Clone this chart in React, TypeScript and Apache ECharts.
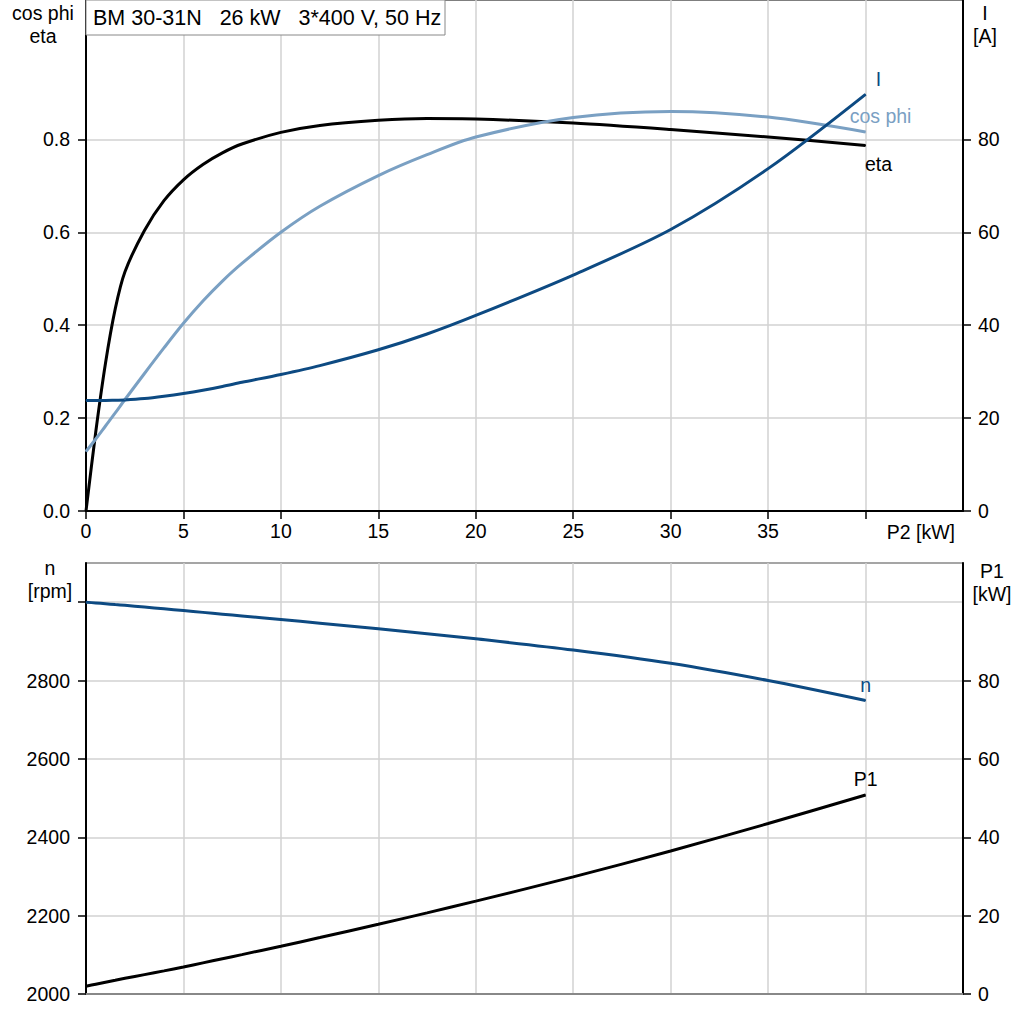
import React, { useEffect, useRef } from "react";
import * as echarts from "echarts";

const P2 = [0, 0.5, 1, 1.5, 2, 3, 4, 5, 6, 7, 8, 10, 12, 15, 17.5, 20, 25, 30, 35, 40];
const ETA = [0, 0.17, 0.318, 0.435, 0.515, 0.604, 0.668, 0.713, 0.746, 0.771, 0.79, 0.815, 0.83, 0.841, 0.845, 0.844, 0.835, 0.821, 0.805, 0.787];
const COS_PHI = [0.128, 0.155, 0.183, 0.211, 0.24, 0.296, 0.351, 0.404, 0.452, 0.495, 0.533, 0.6, 0.656, 0.722, 0.767, 0.805, 0.847, 0.86, 0.848, 0.816];
const CURRENT = [23.8, 23.8, 23.8, 23.85, 23.9, 24.2, 24.7, 25.3, 26.0, 26.8, 27.7, 29.4, 31.3, 34.7, 38.1, 42.1, 50.8, 60.6, 73.7, 89.7];
const SPEED = [3000, 2998, 2996, 2994, 2992, 2987.5, 2983, 2978.5, 2974, 2969.5, 2965, 2956, 2946.5, 2932, 2919.5, 2906.5, 2878, 2844, 2800, 2749];
const P1 = [2.0, 2.5, 3.0, 3.5, 4.0, 4.95, 5.9, 6.9, 7.95, 9.0, 10.05, 12.2, 14.4, 17.8, 20.7, 23.7, 29.9, 36.5, 43.5, 50.8];

const X_TICKS = [0, 5, 10, 15, 20, 25, 30, 35, 40];
const X_LABELS = [0, 5, 10, 15, 20, 25, 30, 35];
const LEFT_TOP_TICKS = [0, 0.2, 0.4, 0.6, 0.8];
const RIGHT_TOP_TICKS = [0, 20, 40, 60, 80];
const LEFT_BOTTOM_TICKS = [2000, 2200, 2400, 2600, 2800, 3000];
const LEFT_BOTTOM_LABELS = [2000, 2200, 2400, 2600, 2800];
const RIGHT_BOTTOM_TICKS = [0, 20, 40, 60, 80];

const TITLE = "BM 30-31N   26 kW   3*400 V, 50 Hz";

const FONT = "'Liberation Sans', Arial, sans-serif";
const FS = 19.5;
const DARK_BLUE = "#0d4a82";
const LIGHT_BLUE = "#7aa0c3";
const GRID_GRAY = "#d2d2d2";

function build(ys: number[], name: string, color: string, labelOpts: any) {
  return P2.map((x, i) =>
    i === P2.length - 1
      ? {
          value: [x, ys[i]],
          label: {
            show: true,
            formatter: name,
            color,
            fontSize: FS,
            fontFamily: FONT,
            ...labelOpts,
          },
        }
      : [x, ys[i]]
  );
}

function lineSeries(name: string, ys: number[], color: string, xi: number, yi: number, labelOpts: any) {
  return {
    type: "line",
    name,
    xAxisIndex: xi,
    yAxisIndex: yi,
    smooth: 0.3,
    symbol: "circle",
    symbolSize: 1,
    showSymbol: true,
    showAllSymbol: true,
    itemStyle: { color },
    lineStyle: { color, width: 3 },
    data: build(ys, name, color, labelOpts),
  };
}

export default function App() {
  const ref = useRef<HTMLDivElement>(null);
  useEffect(() => {
    if (!ref.current) return;
    const chart = echarts.init(ref.current, null, { renderer: "svg" });
    const splitLine = { show: true, lineStyle: { color: GRID_GRAY, width: 1.5 } };
    const blackLine = { show: true, lineStyle: { color: "#000", width: 2 } };
    const tick = (vals: number[]) => ({
      show: true,
      length: 8,
      customValues: vals,
      lineStyle: { color: "#000", width: 1.5 },
    });
    const lbl = (vals: number[], margin: number, fmt?: (v: number) => string) => ({
      show: true,
      customValues: vals,
      margin,
      fontSize: FS,
      fontFamily: FONT,
      color: "#000",
      formatter: fmt,
    });
    const option: any = {
      animation: false,
      textStyle: { fontFamily: FONT },
      grid: [
        { left: 86, right: 61, top: 0, height: 511, show: true, borderColor: "#000", borderWidth: 1 },
        { left: 86, right: 61, top: 563, height: 431, show: true, borderColor: "#888", borderWidth: 1.5 },
      ],
      xAxis: [
        {
          type: "value",
          gridIndex: 0,
          min: 0,
          max: 45,
          interval: 5,
          axisLine: blackLine,
          axisTick: tick(X_TICKS),
          axisLabel: lbl(X_LABELS, 10, (v: number) => String(v)),
          splitLine,
        },
        {
          type: "value",
          gridIndex: 1,
          min: 0,
          max: 45,
          interval: 5,
          axisLine: { show: true, lineStyle: { color: "#888", width: 2 } },
          axisTick: { show: false },
          axisLabel: { show: false },
          splitLine,
        },
      ],
      yAxis: [
        {
          type: "value",
          gridIndex: 0,
          position: "left",
          min: 0,
          max: 1.1,
          interval: 0.1,
          axisLine: blackLine,
          axisTick: tick(LEFT_TOP_TICKS),
          axisLabel: lbl(LEFT_TOP_TICKS, 16, (v: number) => v.toFixed(1)),
          splitLine,
        },
        {
          type: "value",
          gridIndex: 0,
          position: "right",
          min: 0,
          max: 110,
          interval: 10,
          axisLine: blackLine,
          axisTick: tick(RIGHT_TOP_TICKS),
          axisLabel: lbl(RIGHT_TOP_TICKS, 15, (v: number) => String(v)),
          splitLine: { show: false },
        },
        {
          type: "value",
          gridIndex: 1,
          position: "left",
          min: 2000,
          max: 3100,
          interval: 100,
          axisLine: blackLine,
          axisTick: tick(LEFT_BOTTOM_TICKS),
          axisLabel: lbl(LEFT_BOTTOM_LABELS, 16, (v: number) => String(v)),
          splitLine,
        },
        {
          type: "value",
          gridIndex: 1,
          position: "right",
          min: 0,
          max: 110,
          interval: 10,
          axisLine: blackLine,
          axisTick: tick(RIGHT_BOTTOM_TICKS),
          axisLabel: lbl(RIGHT_BOTTOM_TICKS, 15, (v: number) => String(v)),
          splitLine: { show: false },
        },
      ],
      series: [
        lineSeries("eta", ETA, "#000", 0, 0, { position: "bottom", offset: [13, 3] }),
        lineSeries("cos phi", COS_PHI, LIGHT_BLUE, 0, 0, { position: "top", offset: [15, 0] }),
        lineSeries("I", CURRENT, DARK_BLUE, 0, 1, { position: "top", offset: [13, 0] }),
        lineSeries("n", SPEED, DARK_BLUE, 1, 2, { position: "top", offset: [0, 0] }),
        lineSeries("P1", P1, "#000", 1, 3, { position: "top", offset: [0, 0] }),
      ],
      graphic: [
        {
          type: "rect",
          z: 100,
          shape: { x: 86, y: 0, width: 359, height: 35 },
          style: { fill: "#fff", stroke: "#888", lineWidth: 1 },
        },
        {
          type: "text",
          z: 101,
          x: 93,
          y: 18,
          style: { text: TITLE, fontSize: 21.5, fontFamily: FONT, fill: "#000", verticalAlign: "middle", align: "left" },
        },
        {
          type: "text",
          z: 101,
          x: 43,
          y: 1,
          style: { text: "cos phi\neta", fontSize: FS, lineHeight: 23, fontFamily: FONT, fill: "#000", align: "center", verticalAlign: "top" },
        },
        {
          type: "text",
          z: 101,
          x: 985,
          y: 1,
          style: { text: "I\n[A]", fontSize: FS, lineHeight: 23, fontFamily: FONT, fill: "#000", align: "center", verticalAlign: "top" },
        },
        {
          type: "text",
          z: 101,
          x: 50,
          y: 556,
          style: { text: "n\n[rpm]", fontSize: FS, lineHeight: 23, fontFamily: FONT, fill: "#000", align: "center", verticalAlign: "top" },
        },
        {
          type: "text",
          z: 101,
          x: 992,
          y: 559,
          style: { text: "P1\n[kW]", fontSize: FS, lineHeight: 23, fontFamily: FONT, fill: "#000", align: "center", verticalAlign: "top" },
        },
        {
          type: "text",
          z: 101,
          x: 955,
          y: 532,
          style: { text: "P2 [kW]", fontSize: FS, fontFamily: FONT, fill: "#000", align: "right", verticalAlign: "middle" },
        },
      ],
    };
    chart.setOption(option);
    return () => chart.dispose();
  }, []);
  return (
    <div
      ref={ref}
      style={{ position: "absolute", left: 0, top: 0, width: 1024, height: 1024, background: "#fff" }}
    />
  );
}
